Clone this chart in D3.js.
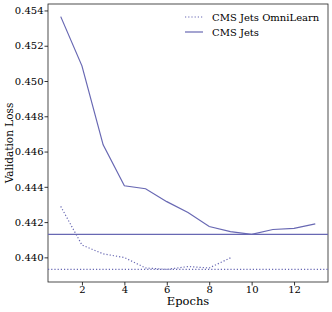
<!DOCTYPE html>
<html>
<head>
<meta charset="utf-8">
<script src="https://cdn.jsdelivr.net/npm/d3@7"></script>
<style>
  body { margin: 0; background: #fff; }
  svg { font-family: "DejaVu Serif", serif; }
</style>
</head>
<body>
<svg width="332" height="312"></svg>
<script>
"use strict";

// values
var omniEpochs = [1, 2, 3, 4, 5, 6, 7, 8, 9];
var omniLoss = [0.44289, 0.44070, 0.44020, 0.43999, 0.43940, 0.43932, 0.43948, 0.43940, 0.43997];

var jetsEpochs = [1, 2, 3, 4, 5, 6, 7, 8, 9, 10, 11, 12, 13];
var jetsLoss = [0.45365, 0.45086, 0.44638, 0.44406, 0.44389, 0.44316, 0.44254, 0.44175, 0.44146, 0.44130, 0.44158, 0.44164, 0.44190];

var xTicks = [2, 4, 6, 8, 10, 12];
var yTicks = [0.440, 0.442, 0.444, 0.446, 0.448, 0.450, 0.452, 0.454];

var seriesNames = ['CMS Jets OmniLearn', 'CMS Jets'];

var color = '#6868b3';

var svg = d3.select('svg');
var margin = { left: 48, right: 4, top: 4, bottom: 30 };
var width = 332 - margin.left - margin.right;
var height = 312 - margin.top - margin.bottom;

var allLoss = omniLoss.concat(jetsLoss);
var yMin = d3.min(allLoss), yMax = d3.max(allLoss);
var yPad = (yMax - yMin) * 0.05;

var x = d3.scaleLinear().domain([0.4, 13.6]).range([0, width]);
var y = d3.scaleLinear().domain([yMin - yPad, yMax + yPad]).range([height, 0]);

var g = svg.append('g').attr('transform', `translate(${margin.left},${margin.top})`);

var xAxis = g.append('g')
    .attr('transform', `translate(0,${height})`)
    .call(d3.axisBottom(x).tickValues(xTicks).tickSize(3.5).tickPadding(0).tickFormat(d3.format('d')));

var yAxis = g.append('g')
    .call(d3.axisLeft(y).tickValues(yTicks).tickSize(3.5).tickPadding(1).tickFormat(d3.format('.3f')));

[xAxis, yAxis].forEach(a => {
    a.select('.domain').remove();
    a.selectAll('line').attr('stroke', '#000').attr('stroke-width', 0.8);
    a.selectAll('text').attr('font-family', '"DejaVu Serif", serif').attr('font-size', 10).attr('fill', '#000');
});

// frame
g.append('rect')
    .attr('width', width).attr('height', height)
    .attr('fill', 'none').attr('stroke', '#222').attr('stroke-width', 0.8);

var line = d3.line().x(d => x(d[0])).y(d => y(d[1]));

// horizontal lines at the minimum of each series
g.append('line')
    .attr('x1', 0).attr('x2', width)
    .attr('y1', y(d3.min(omniLoss))).attr('y2', y(d3.min(omniLoss)))
    .attr('stroke', color).attr('stroke-width', 1.2).attr('stroke-dasharray', '1.2,2');

g.append('line')
    .attr('x1', 0).attr('x2', width)
    .attr('y1', y(d3.min(jetsLoss))).attr('y2', y(d3.min(jetsLoss)))
    .attr('stroke', color).attr('stroke-width', 1.2);

g.append('path')
    .datum(d3.zip(omniEpochs, omniLoss))
    .attr('d', line)
    .attr('fill', 'none').attr('stroke', color).attr('stroke-width', 1.2)
    .attr('stroke-dasharray', '1.2,2');

g.append('path')
    .datum(d3.zip(jetsEpochs, jetsLoss))
    .attr('d', line)
    .attr('fill', 'none').attr('stroke', color).attr('stroke-width', 1.2);

// legend
var legend = g.append('g').attr('transform', 'translate(137,13)');
seriesNames.forEach((name, i) => {
    var row = legend.append('g').attr('transform', `translate(0,${i * 15})`);
    row.append('line')
        .attr('x1', 0).attr('x2', 18)
        .attr('stroke', color).attr('stroke-width', 1.2)
        .attr('stroke-dasharray', i === 0 ? '1.2,2' : null);
    row.append('text')
        .attr('x', 27).attr('dy', '0.35em')
        .attr('font-size', 10)
        .text(name);
});

// axis labels
svg.append('text')
    .attr('x', margin.left + width / 2).attr('y', 305)
    .attr('text-anchor', 'middle').attr('font-size', 11.5)
    .text('Epochs');

svg.append('text')
    .attr('transform', `translate(9,${margin.top + height / 2}) rotate(-90)`)
    .attr('text-anchor', 'middle').attr('font-size', 10.5)
    .attr('dy', '0.35em')
    .text('Validation Loss');
</script>
</body>
</html>
